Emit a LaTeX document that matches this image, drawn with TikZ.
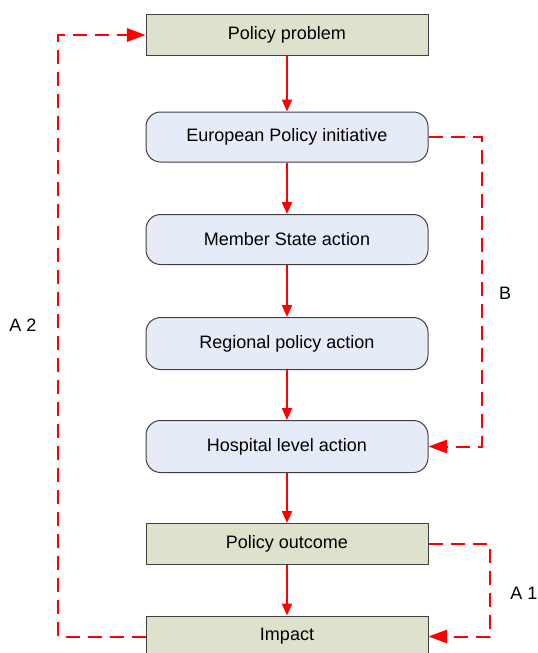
\documentclass[tikz,border=0pt]{standalone}
\usepackage{fontspec}
\setmainfont{Liberation Sans}
\usepackage{xcolor}
\usetikzlibrary{arrows.meta}

\definecolor{boxgreen}{RGB}{221,226,204}
\definecolor{boxblue}{RGB}{230,236,247}
\definecolor{boxline}{RGB}{64,64,64}

\tikzset{
  greenbox/.style={draw=boxline, line width=0.75pt, fill=boxgreen, minimum width=211.5pt, minimum height=30.75pt, inner sep=0pt, font=\fontsize{13.5}{16}\selectfont},
  bluebox/.style={draw=boxline, line width=0.75pt, fill=boxblue, rounded corners=11pt, minimum width=211.5pt, minimum height=37.5pt, inner sep=0pt, font=\fontsize{13.5}{16}\selectfont},
  flow/.style={draw=red, line width=1.5pt, -{Triangle[length=9pt,width=7.5pt]}},
  fback/.style={draw=red, line width=1.5pt, dash pattern=on 10.5pt off 6pt, -{Triangle[length=14pt,width=10pt]}},
  lbl/.style={font=\fontsize{13.5}{16}\selectfont}
}

\begin{document}
\begin{tikzpicture}[x=0.75pt,y=0.75pt,yscale=-1,xscale=1]
\useasboundingbox (0,0) rectangle (538,653);

% boxes
\node[greenbox] (problem) at (287,35) {Policy problem};
\node[bluebox] (european) at (287,137) {European Policy initiative};
\node[bluebox] (member) at (287,239.5) {Member State action};
\node[bluebox, minimum height=39pt] (regional) at (287,343.5) {Regional policy action};
\node[bluebox, minimum height=39pt] (hospital) at (287,446.5) {Hospital level action};
\node[greenbox] (outcome) at (287,544) {Policy outcome};
\node[greenbox] (impact) at (287,636.5) {Impact};

% main chain
\draw[flow] (problem) -- (european);
\draw[flow] (european) -- (member);
\draw[flow] (member) -- (regional);
\draw[flow] (regional) -- (hospital);
\draw[flow] (hospital) -- (outcome);
\draw[flow] (outcome) -- (impact);

% feedback loops
\coordinate (colA2) at (58,0);
\coordinate (colB) at (481.5,0);
\coordinate (colA1) at (490,0);
\draw[fback] (impact.west) -- (impact.west -| colA2) -- (problem.west -| colA2) -- (problem.west);
\draw[fback] (european.east) -- (european.east -| colB) -- (hospital.east -| colB) -- (hospital.east);
\draw[fback] (outcome.east) -- (outcome.east -| colA1) -- (impact.east -| colA1) -- (impact.east);

% labels
\node[lbl] (labA2) at (23,325) {A 2};
\node[lbl] (labB) at (505,293) {B};
\node[lbl] (labA1) at (524,593) {A 1};

\end{tikzpicture}
\end{document}
